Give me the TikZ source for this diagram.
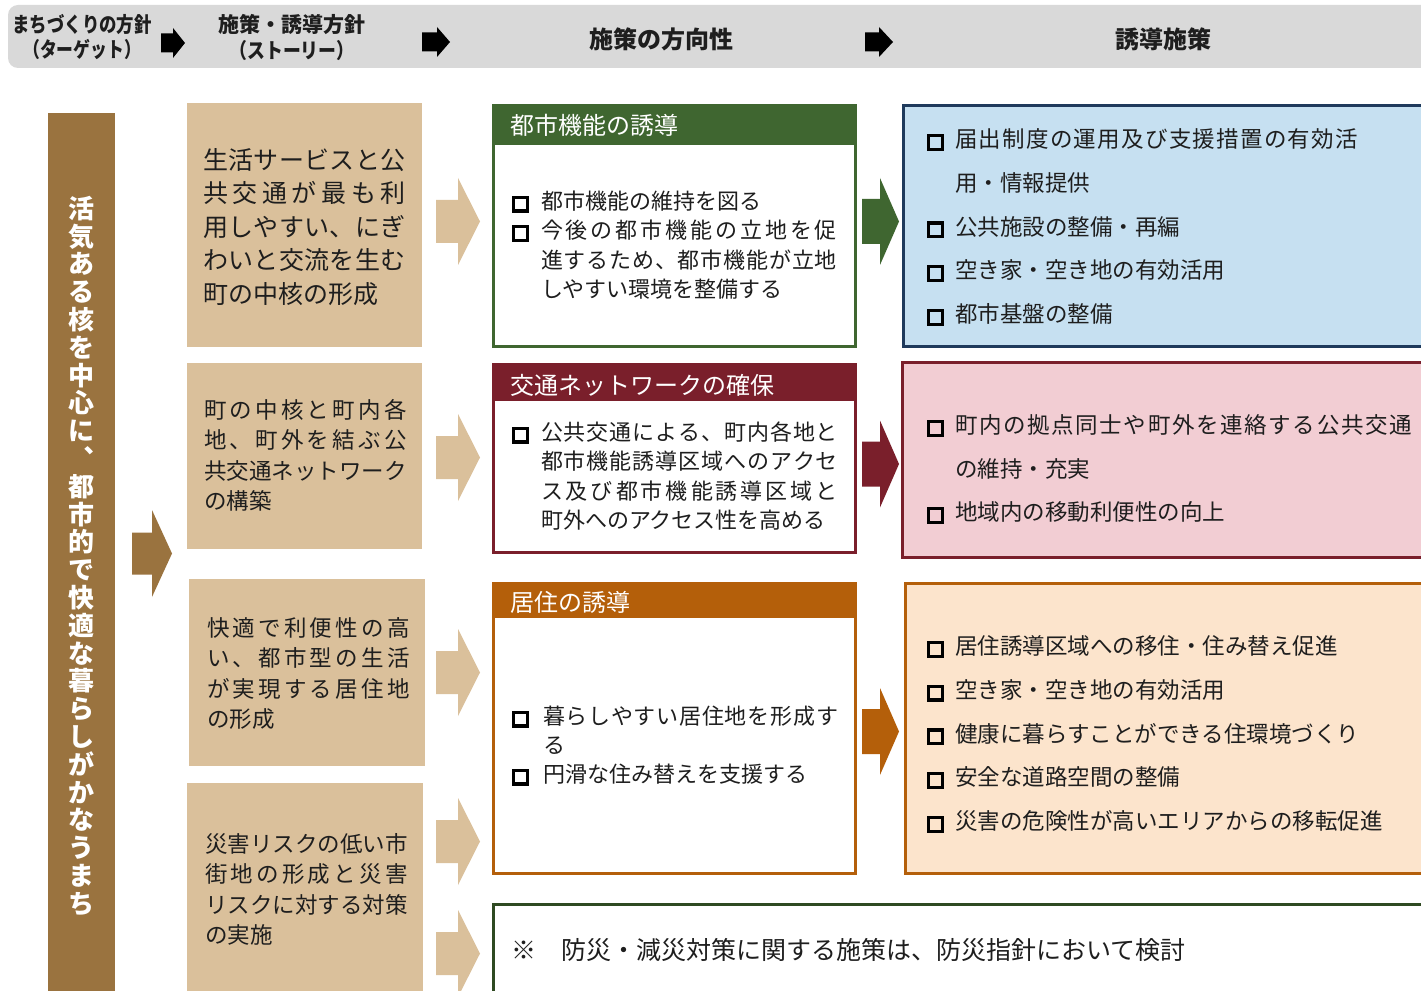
\documentclass[tikz,border=0pt]{standalone}
\usepackage{fontspec}
\setmainfont{Noto Sans CJK JP}
\usepackage{graphicx}

\definecolor{hdrc}{HTML}{D9D9D9}
\definecolor{brnc}{HTML}{9A733F}
\definecolor{tanc}{HTML}{DAC09B}
\definecolor{grnc}{HTML}{3F6630}
\definecolor{redc}{HTML}{7A1F2B}
\definecolor{orgc}{HTML}{B45F0A}
\definecolor{bluef}{HTML}{C6E0F1}
\definecolor{blued}{HTML}{1F3A5C}
\definecolor{pinkf}{HTML}{F2CDD3}
\definecolor{peachf}{HTML}{FCE4CC}
\definecolor{dkgrn}{HTML}{2F4A22}
\definecolor{txtc}{HTML}{1E1E1E}

\newcommand\cb{\raisebox{0pt}{\color{black}\setlength\fboxrule{2.4pt}\setlength\fboxsep{0pt}\fbox{\rule{0pt}{7.8pt}\rule{7.8pt}{0pt}}}}
\newcommand\cbi[1]{\makebox[#1][l]{\cb}}
\def\dist#1#2{\hbox to #1{\distA#2\relax}}
\def\distA#1#2{#1\ifx\relax#2\else\hfill\expandafter\distA\expandafter#2\fi}
\newcommand\lns[2]{\vtop{\baselineskip=#1\lineskiplimit=-100pt\lineskip=0pt\relax #2}}
\def\vchars#1{\vcharsA#1\relax}
\def\vcharsA#1{\ifx\relax#1\else\hbox to 22pt{\hss#1\hss\vrule height 0.88em depth 0.12em width 0pt}\expandafter\vcharsA\fi}
\newcommand\Lc[1]{\hbox to 0pt{\hss#1\hss}}

\newcommand\barrow[7]{\fill[#1] (#2,{#5-#6/2}) -- (#3,{#5-#6/2}) -- (#3,{#5-#7/2}) -- (#4,#5) -- (#3,{#5+#7/2}) -- (#3,{#5+#6/2}) -- (#2,{#5+#6/2}) -- cycle;}

\newcommand\fsM{\fontsize{16.5pt}{22pt}\selectfont}
\newcommand\fsR{\fontsize{16.875pt}{22pt}\selectfont}
\newcommand\fsT{\fontsize{18.75pt}{24pt}\selectfont}
\newcommand\fsS{\fontsize{16.875pt}{22pt}\selectfont}
\newcommand\fsB{\fontsize{18.75pt}{24pt}\selectfont}

\tikzset{
  lbl/.style={inner sep=0pt, outer sep=0pt, anchor=base west, text=txtc},
  hlbl/.style={inner sep=0pt, outer sep=0pt, anchor=base west, text=white, font=\fontsize{18pt}{22pt}\selectfont},
  htxt/.style={inner sep=0pt, outer sep=0pt, anchor=base, text=txtc, font=\bfseries\fontsize{15.75pt}{20pt}\selectfont},
  bw/.style={line width=2.25pt},
}

\begin{document}
\begin{tikzpicture}[x=0.75pt,y=-0.75pt]
\useasboundingbox (0,0) rectangle (1421,991);
\clip (0,0) rectangle (1421,991);
\fill[white] (0,0) rectangle (1421,991);

% header bar
\fill[hdrc, rounded corners=7.5pt] (8,5) rectangle (1460,68);
\node[htxt] (h1) at (82,33) {\lns{18.75pt}{\Lc{\scalebox{0.83}[1]{まちづくりの方針}}\Lc{\scalebox{0.8}[1]{（ターゲット）}}}};
\node[htxt] (h2) at (292,33) {\lns{19.5pt}{\Lc{施策・誘導方針}\Lc{\scalebox{0.85}[1]{（ストーリー）}}}};
\node[htxt, font=\bfseries\fontsize{18pt}{22pt}\selectfont] (h3) at (661,49) {施策の方向性};
\node[htxt, font=\bfseries\fontsize{18pt}{22pt}\selectfont] (h4) at (1163,49) {誘導施策};
\barrow{black}{161}{173}{185}{43}{19}{30}
\barrow{black}{422}{437}{450}{42}{19}{30}
\barrow{black}{865}{879}{893}{42}{19}{30}

% left vertical bar
\fill[brnc] (48,113) rectangle (115,1000);
\node[inner sep=0pt, text=white, font=\bfseries\fontsize{19.5pt}{20.85pt}\selectfont] (target) at (81,556)
  {\lns{20.85pt}{\vchars{活気ある核を中心に︑都市的で快適な暮らしがかなうまち}}};
\barrow{brnc}{132}{152}{172}{553.5}{42}{87}

% story boxes
\fill[tanc] (187,103) rectangle (422,347);
\fill[tanc] (187,363) rectangle (422,549);
\fill[tanc] (189,579) rectangle (425,766);
\fill[tanc] (187,783) rectangle (423,1000);

\node[lbl, font=\fsT] (s1) at (203,169.5) {\lns{25.125pt}{%
  \hbox{\dist{152pt}{生活サービスと公}}%
  \hbox{\dist{152pt}{共交通が最も利}}%
  \hbox{\dist{152pt}{用しやすい、にぎ}}%
  \hbox{\dist{152pt}{わいと交流を生む}}%
  \hbox{町の中核の形成}}};
\node[lbl, font=\fsS] (s2) at (204,418.5) {\lns{22.7pt}{%
  \hbox{\dist{152pt}{町の中核と町内各}}%
  \hbox{\dist{152pt}{地、町外を結ぶ公}}%
  \hbox{\dist{152pt}{共交通ネットワーク}}%
  \hbox{の構築}}};
\node[lbl, font=\fsS] (s3) at (207,636.5) {\lns{22.7pt}{%
  \hbox{\dist{152pt}{快適で利便性の高}}%
  \hbox{\dist{152pt}{い、都市型の生活}}%
  \hbox{\dist{152pt}{が実現する居住地}}%
  \hbox{の形成}}};
\node[lbl, font=\fsS] (s4) at (205,852.5) {\lns{22.7pt}{%
  \hbox{\dist{152pt}{災害リスクの低い市}}%
  \hbox{\dist{152pt}{街地の形成と災害}}%
  \hbox{\dist{152pt}{リスクに対する対策}}%
  \hbox{の実施}}};

\barrow{tanc}{436}{458}{480}{221.5}{43}{87}
\barrow{tanc}{436}{458}{480}{457.5}{43}{87}
\barrow{tanc}{436}{458}{480}{672.5}{43}{87}
\barrow{tanc}{436}{458}{480}{841.5}{43}{87}
\barrow{tanc}{436}{458}{480}{953.5}{43}{87}

% direction boxes
\draw[grnc, bw, fill=white] (493.5,105.5) rectangle (855.5,346.5);
\fill[grnc] (492,104) rectangle (857,145);
\node[hlbl] (d1h) at (510,135) {都市機能の誘導};
\node[lbl, font=\fsM] (d1) at (512,209.4) {\lns{22.125pt}{%
  \hbox{\cbi{21.75pt}都市機能の維持を図る}%
  \hbox{\cbi{21.75pt}\dist{222pt}{今後の都市機能の立地を促}}%
  \hbox{\kern21.75pt\dist{222pt}{進するため、都市機能が立地}}%
  \hbox{\kern21.75pt しやすい環境を整備する}}};

\draw[redc, bw, fill=white] (493.5,364.5) rectangle (855.5,552.5);
\fill[redc] (492,363) rectangle (857,401);
\node[hlbl] (d2h) at (510,394) {交通ネットワークの確保};
\node[lbl, font=\fsM] (d2) at (512,440.4) {\lns{21.975pt}{%
  \hbox{\cbi{21.75pt}\dist{222.75pt}{公共交通による、町内各地と}}%
  \hbox{\kern21.75pt\dist{222.75pt}{都市機能誘導区域へのアクセ}}%
  \hbox{\kern21.75pt\dist{222.75pt}{ス及び都市機能誘導区域と}}%
  \hbox{\kern21.75pt 町外へのアクセス性を高める}}};

\draw[orgc, bw, fill=white] (493.5,583.5) rectangle (855.5,873.5);
\fill[orgc] (492,582) rectangle (857,618);
\node[hlbl] (d3h) at (510,611) {居住の誘導};
\node[lbl, font=\fsM] (d3) at (512,724.4) {\lns{21.75pt}{%
  \hbox{\cbi{23.25pt}\dist{221.25pt}{暮らしやすい居住地を形成す}}%
  \hbox{\kern23.25pt る}%
  \hbox{\cbi{23.25pt}円滑な住み替えを支援する}}};

\draw[dkgrn, bw, fill=white] (493.5,904.5) rectangle (1460,1010);
\node[lbl, font=\fsB] (d4) at (511,959.5) {※　防災・減災対策に関する施策は、防災指針において検討};

\barrow{grnc}{862}{880}{899}{221.5}{45}{87}
\barrow{redc}{862}{880}{899}{464}{45}{87}
\barrow{orgc}{862}{880}{899}{731.5}{45}{87}

% measure boxes
\draw[blued, bw, fill=bluef] (903.5,105.5) rectangle (1460,346.5);
\node[lbl, font=\fsR] (m1) at (927,147.6) {\lns{32.81pt}{%
  \hbox{\cbi{21pt}\dist{302.25pt}{届出制度の運用及び支援措置の有効活}}%
  \hbox{\kern21pt 用・情報提供}%
  \hbox{\cbi{21pt}公共施設の整備・再編}%
  \hbox{\cbi{21pt}空き家・空き地の有効活用}%
  \hbox{\cbi{21pt}都市基盤の整備}}};

\draw[redc, bw, fill=pinkf] (902.5,362.5) rectangle (1460,557.5);
\node[lbl, font=\fsR] (m2) at (927,433.6) {\lns{32.62pt}{%
  \hbox{\cbi{21pt}\dist{342.75pt}{町内の拠点同士や町外を連絡する公共交通}}%
  \hbox{\kern21pt の維持・充実}%
  \hbox{\cbi{21pt}地域内の移動利便性の向上}}};

\draw[orgc, bw, fill=peachf] (905.5,583.5) rectangle (1460,873.5);
\node[lbl, font=\fsR] (m3) at (927,654.6) {\lns{32.81pt}{%
  \hbox{\cbi{21pt}居住誘導区域への移住・住み替え促進}%
  \hbox{\cbi{21pt}空き家・空き地の有効活用}%
  \hbox{\cbi{21pt}健康に暮らすことができる住環境づくり}%
  \hbox{\cbi{21pt}安全な道路空間の整備}%
  \hbox{\cbi{21pt}災害の危険性が高いエリアからの移転促進}}};
\end{tikzpicture}
\end{document}
